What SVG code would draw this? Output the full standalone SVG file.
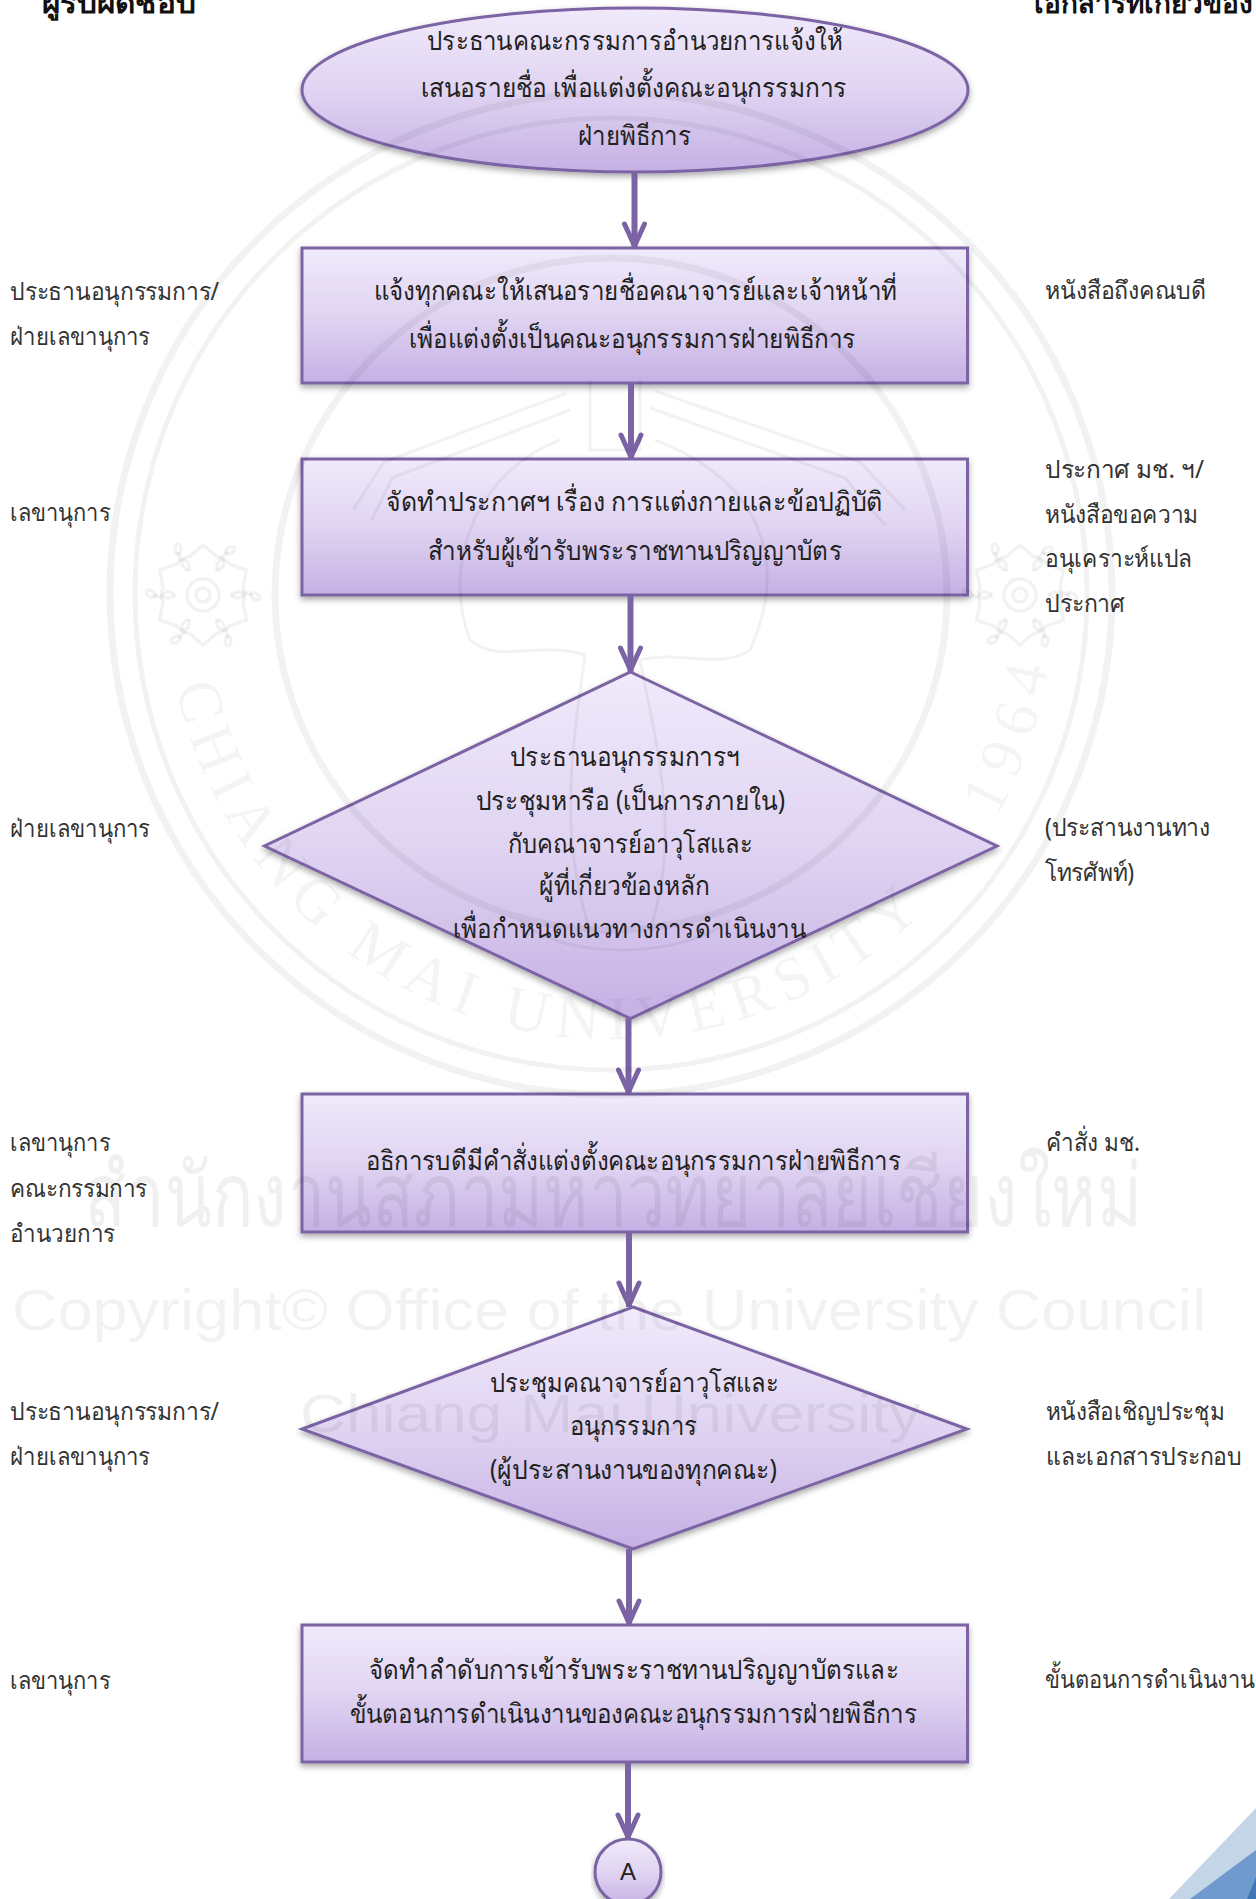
<svg xmlns="http://www.w3.org/2000/svg" width="1256" height="1899" viewBox="0 0 1256 1899">
<defs>
<linearGradient id="g" x1="0" y1="0" x2="0" y2="1"><stop offset="0" stop-color="#f0eafb"/><stop offset=".5" stop-color="#e0d4f2"/><stop offset="1" stop-color="#c5b0e4"/></linearGradient>
<filter id="s" x="-5%" y="-5%" width="110%" height="115%"><feDropShadow dx="0" dy="3" stdDeviation="3" flood-color="#000" flood-opacity=".35"/></filter>
<marker id="a" markerUnits="userSpaceOnUse" markerWidth="26" markerHeight="30" refX="13" refY="28" orient="0" viewBox="0 0 26 30"><path d="M3 4 L13 26 L23 4" fill="none" stroke="#7c64a4" stroke-width="5" stroke-linecap="round" stroke-linejoin="round"/><path d="M8 15 H18 L13 28Z" fill="#7c64a4"/></marker>
<path id="arcA" d="M176 686.500 A445 445 0 0 0 926 909"/>
<path id="arcB" d="M996 818 A445 445 0 0 0 1048 668"/>
<g id="pt"><path d="M-14 -24 C-26 -30 -21 -39 -14 -38 L0 -50 L14 -38 C21 -39 26 -30 14 -24 M-22 -32 L-25 -43" fill="none"/><ellipse cx="-25" cy="-46" rx="3" ry="5" fill="none"/></g>
<g id="fl" fill="none" stroke="#000" stroke-opacity=".05" stroke-width="3.500"><circle r="7"/><circle r="16"/>
<use href="#pt"/><use href="#pt" transform="rotate(60)"/><use href="#pt" transform="rotate(120)"/><use href="#pt" transform="rotate(180)"/><use href="#pt" transform="rotate(240)"/><use href="#pt" transform="rotate(300)"/></g>
</defs>
<style>
text{font-family:"Noto Sans","Liberation Sans","DejaVu Sans",sans-serif;fill:#222;font-size:27px}
.n{fill:url(#g);stroke:#7c64a4;stroke-width:3;filter:url(#s)}
.c{text-anchor:middle}
.l{font-size:25px;fill:#333}
.h{font-size:28px;font-weight:bold;fill:#111}
.k{stroke:#7c64a4;stroke-width:6;fill:none;marker-end:url(#a)}
.w{fill:#000;fill-opacity:.06}
.wl{fill:none;stroke:#000;stroke-opacity:.05;stroke-width:3}
.ws{font-family:"Liberation Serif",serif;font-size:62px;fill:#000;fill-opacity:.045}
</style>
<rect width="1256" height="1899" fill="#fff"/>

<g id="headers">
<text class="h" x="42" y="13" textLength="154" lengthAdjust="spacingAndGlyphs">ผู้รับผิดชอบ</text>
<text class="h" x="1034" y="13">เอกสารที่เกี่ยวข้อง</text>
</g>

<g id="n1"><ellipse class="n" cx="635" cy="90" rx="333" ry="82"/>
<text x="427" y="50" textLength="416" lengthAdjust="spacingAndGlyphs">ประธานคณะกรรมการอำนวยการแจ้งให้</text>
<text x="421" y="97" textLength="426" lengthAdjust="spacingAndGlyphs">เสนอรายชื่อ เพื่อแต่งตั้งคณะอนุกรรมการ</text>
<text x="578" y="145" textLength="113" lengthAdjust="spacingAndGlyphs">ฝ่ายพิธีการ</text></g>

<g id="n2"><rect class="n" x="302" y="248" width="665.500" height="135"/>
<text x="374" y="300" textLength="523" lengthAdjust="spacingAndGlyphs">แจ้งทุกคณะให้เสนอรายชื่อคณาจารย์และเจ้าหน้าที่</text>
<text x="409" y="348" textLength="447" lengthAdjust="spacingAndGlyphs">เพื่อแต่งตั้งเป็นคณะอนุกรรมการฝ่ายพิธีการ</text></g>

<g id="n3"><rect class="n" x="302" y="459" width="665.500" height="136"/>
<text x="386" y="511" textLength="497" lengthAdjust="spacingAndGlyphs">จัดทำประกาศฯ เรื่อง การแต่งกายและข้อปฏิบัติ</text>
<text x="428" y="560" textLength="414" lengthAdjust="spacingAndGlyphs">สำหรับผู้เข้ารับพระราชทานปริญญาบัตร</text></g>

<g id="n4"><path class="n" d="M630.500 672 L997 846 L630.500 1018.500 L264.500 846Z"/>
<text x="510" y="766" textLength="230" lengthAdjust="spacingAndGlyphs">ประธานอนุกรรมการฯ</text>
<text x="476" y="810" textLength="309" lengthAdjust="spacingAndGlyphs">ประชุมหารือ (เป็นการภายใน)</text>
<text x="508" y="853" textLength="245" lengthAdjust="spacingAndGlyphs">กับคณาจารย์อาวุโสและ</text>
<text x="539" y="895" textLength="171" lengthAdjust="spacingAndGlyphs">ผู้ที่เกี่ยวข้องหลัก</text>
<text x="453" y="938" textLength="353" lengthAdjust="spacingAndGlyphs">เพื่อกำหนดแนวทางการดำเนินงาน</text></g>

<g id="n5"><rect class="n" x="302" y="1094" width="665.500" height="138"/>
<text x="366" y="1170" textLength="535" lengthAdjust="spacingAndGlyphs">อธิการบดีมีคำสั่งแต่งตั้งคณะอนุกรรมการฝ่ายพิธีการ</text></g>

<g id="n6"><path class="n" d="M633 1307 L967 1429 L633 1549 L302 1429Z"/>
<text x="490" y="1392" textLength="289" lengthAdjust="spacingAndGlyphs">ประชุมคณาจารย์อาวุโสและ</text>
<text x="570" y="1435" textLength="127" lengthAdjust="spacingAndGlyphs">อนุกรรมการ</text>
<text x="490" y="1479" textLength="287" lengthAdjust="spacingAndGlyphs">(ผู้ประสานงานของทุกคณะ)</text></g>

<g id="n7"><rect class="n" x="302" y="1625" width="665.500" height="137"/>
<text x="369" y="1679" textLength="530" lengthAdjust="spacingAndGlyphs">จัดทำลำดับการเข้ารับพระราชทานปริญญาบัตรและ</text>
<text x="350" y="1723" textLength="567" lengthAdjust="spacingAndGlyphs">ขั้นตอนการดำเนินงานของคณะอนุกรรมการฝ่ายพิธีการ</text></g>

<g id="n8"><circle class="n" cx="628" cy="1872" r="33"/><text class="c" x="628" y="1880" style="font-size:24px;font-family:'Liberation Sans',sans-serif">A</text></g>

<g id="connectors">
<path class="k" d="M634.500 172V248"/>
<path class="k" d="M631 383V459"/>
<path class="k" d="M630.500 595V672"/>
<path class="k" d="M628.500 1018.500V1094"/>
<path class="k" d="M629 1232V1307"/>
<path class="k" d="M629 1549V1625"/>
<path class="k" d="M628 1762V1839"/>
</g>

<g id="left-labels">
<text class="l" x="10" y="300" textLength="209" lengthAdjust="spacingAndGlyphs">ประธานอนุกรรมการ/</text>
<text class="l" x="10" y="345" textLength="140" lengthAdjust="spacingAndGlyphs">ฝ่ายเลขานุการ</text>
<text class="l" x="10" y="521" textLength="100" lengthAdjust="spacingAndGlyphs">เลขานุการ</text>
<text class="l" x="10" y="837" textLength="140" lengthAdjust="spacingAndGlyphs">ฝ่ายเลขานุการ</text>
<text class="l" x="10" y="1151" textLength="100" lengthAdjust="spacingAndGlyphs">เลขานุการ</text>
<text class="l" x="10" y="1197" textLength="137" lengthAdjust="spacingAndGlyphs">คณะกรรมการ</text>
<text class="l" x="10" y="1242" textLength="105" lengthAdjust="spacingAndGlyphs">อำนวยการ</text>
<text class="l" x="10" y="1420" textLength="209" lengthAdjust="spacingAndGlyphs">ประธานอนุกรรมการ/</text>
<text class="l" x="10" y="1465" textLength="140" lengthAdjust="spacingAndGlyphs">ฝ่ายเลขานุการ</text>
<text class="l" x="10" y="1689" textLength="100" lengthAdjust="spacingAndGlyphs">เลขานุการ</text>
</g>

<g id="right-labels">
<text class="l" x="1045" y="299" textLength="161" lengthAdjust="spacingAndGlyphs">หนังสือถึงคณบดี</text>
<text class="l" x="1045" y="478" textLength="159" lengthAdjust="spacingAndGlyphs">ประกาศ มช. ฯ/</text>
<text class="l" x="1045" y="523" textLength="153" lengthAdjust="spacingAndGlyphs">หนังสือขอความ</text>
<text class="l" x="1045" y="567" textLength="147" lengthAdjust="spacingAndGlyphs">อนุเคราะห์แปล</text>
<text class="l" x="1045" y="612" textLength="80" lengthAdjust="spacingAndGlyphs">ประกาศ</text>
<text class="l" x="1045" y="836" textLength="165" lengthAdjust="spacingAndGlyphs">(ประสานงานทาง</text>
<text class="l" x="1045" y="881" textLength="89" lengthAdjust="spacingAndGlyphs">โทรศัพท์)</text>
<text class="l" x="1046" y="1151" textLength="94" lengthAdjust="spacingAndGlyphs">คำสั่ง มช.</text>
<text class="l" x="1046" y="1420" textLength="178" lengthAdjust="spacingAndGlyphs">หนังสือเชิญประชุม</text>
<text class="l" x="1046" y="1465" textLength="196" lengthAdjust="spacingAndGlyphs">และเอกสารประกอบ</text>
<text class="l" x="1045" y="1688" textLength="210" lengthAdjust="spacingAndGlyphs">ขั้นตอนการดำเนินงาน</text>
</g>

<g id="corner">
<polygon points="1169,1899 1256,1808 1256,1899" fill="#c5d5e8"/>
<polygon points="1190,1899 1256,1850 1256,1899" fill="#6f9acd"/>
<polygon points="1247,1899 1256,1877 1256,1899" fill="#3f78b8"/>
</g>

<g id="watermark">
<circle class="wl" cx="611" cy="594" r="501" style="stroke-width:7"/>
<circle class="wl" cx="611" cy="594" r="476" style="stroke-width:5"/>
<circle class="wl" cx="611" cy="594" r="336" style="stroke-width:7"/>
<use href="#fl" x="203" y="595"/>
<use href="#fl" x="1020" y="595"/>
<path class="wl" d="M353 510 L384 462 L567 393 M372 520 L392 478 L570 410 M655 391 L860 462 L905 510 M650 408 L845 478 L885 525"/>
<path class="wl" d="M560 440 C480 470 440 560 470 640 C500 665 540 640 585 655 M655 440 C760 480 790 560 750 650 C720 670 680 650 640 660 M585 655 C570 760 560 840 590 930 M640 660 C660 760 680 840 650 930 M590 380 L590 450 L640 450 L640 380 M520 920 C560 960 680 960 730 920"/>
<text class="ws"><textPath href="#arcA" textLength="950" lengthAdjust="spacing">CHIANG MAI UNIVERSITY</textPath></text>
<text class="ws"><textPath href="#arcB" textLength="160" lengthAdjust="spacing">1964</textPath></text>
<text class="w" x="84" y="1226" style="font-size:88px" textLength="1058" lengthAdjust="spacingAndGlyphs">สำนักงานสภามหาวิทยาลัยเชียงใหม่</text>
<text class="w" x="12" y="1330" style="font-size:57px;fill-opacity:.05;font-family:'Liberation Sans',sans-serif" textLength="1194" lengthAdjust="spacingAndGlyphs">Copyright© Office of the University Council</text>
<text class="w" x="300" y="1432" style="font-size:53px;font-family:'Liberation Sans',sans-serif" textLength="621" lengthAdjust="spacingAndGlyphs">Chiang Mai University</text>
</g>
</svg>
